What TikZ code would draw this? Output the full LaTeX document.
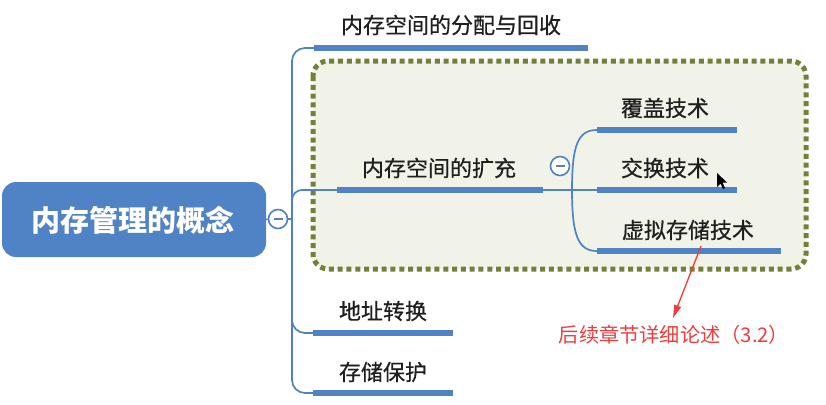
\documentclass[tikz,border=0pt]{standalone}
\usepackage{fontspec}
\setmainfont{Noto Sans CJK SC}
\newfontfamily\cjk{Noto Sans CJK SC}
\newfontfamily\cjkmed{Noto Sans CJK SC}[FakeBold=0.6]
\usetikzlibrary{arrows.meta}
\definecolor{mmblue}{HTML}{5082C6}
\definecolor{olivedot}{HTML}{72803A}
\definecolor{boxfill}{HTML}{F1F3E9}
\definecolor{notered}{HTML}{F03C3C}
\tikzset{
  rootbox/.style={draw=none, fill=mmblue, rounded corners=14pt, minimum width=264pt, minimum height=75pt, inner sep=0pt},
  barnode/.style={fill=mmblue, draw=none, minimum height=5.5pt, inner sep=0pt},
  txt/.style={font=\cjkmed\fontsize{22}{26}\selectfont, inner sep=0pt, text=black!88},
  conn/.style={draw=mmblue, line width=1.7pt},
  collapse/.style={circle, draw=mmblue, line width=1.6pt, fill=white, minimum size=19pt, inner sep=0pt},
  dotbox/.style={draw=olivedot, line width=5pt, dash pattern=on 5pt off 3.8pt, fill=boxfill, rounded corners=15pt},
}
\begin{document}
\begin{tikzpicture}[x=1pt,y=-1pt]
\useasboundingbox (0,0) rectangle (826,404);
% highlight box
\draw[dotbox] (313,61) rectangle (806,269);
% root
\node[rootbox] (root) at (134,219.5) {};
\node[font=\cjk\bfseries\fontsize{29}{33}\selectfont, text=white, inner sep=0pt] (roottxt) at (133,220) {内存管理的概念};
% collapse buttons
\node[collapse] (c1) at (278,219) {};
\draw[mmblue!70!gray, line width=2.2pt] ([xshift=-4.5pt]c1.center) -- ([xshift=4.5pt]c1.center);
\node[collapse] (c2) at (560,166) {};
\draw[mmblue!70!gray, line width=2.2pt] ([xshift=-4.5pt]c2.center) -- ([xshift=4.5pt]c2.center);
\coordinate (junc) at (292,219);
% bars
\node[barnode, minimum width=274pt] (b1) at (451,48) {};
\node[barnode, minimum width=206pt] (b2) at (440,190) {};
\node[barnode, minimum width=140pt] (b3) at (383,333) {};
\node[barnode, minimum width=140pt] (b4) at (383,393) {};
\node[barnode, minimum width=140pt] (s1) at (667,130) {};
\node[barnode, minimum width=140pt] (s2) at (667,190) {};
\node[barnode, minimum width=184pt] (s3) at (689,251) {};
% texts
\node[txt] (t1) at (451,25) {内存空间的分配与回收};
\node[txt] (t2) at (439,168) {内存空间的扩充};
\node[txt] (t3) at (383,311) {地址转换};
\node[txt] (t4) at (383,372) {存储保护};
\node[txt] (u1) at (665,108) {覆盖技术};
\node[txt] (u2) at (665,168) {交换技术};
\node[txt] (u3) at (688,230) {虚拟存储技术};
% connectors
\draw[conn] (root.east) -- (c1.west);
\draw[conn] (c1.east) -- (junc);
\draw[conn, rounded corners=13pt] (junc) |- (b1.west);
\draw[conn, rounded corners=10pt] (junc) |- (b2.west);
\draw[conn, rounded corners=13pt] (junc) |- (b3.west);
\draw[conn, rounded corners=13pt] (junc) |- (b4.west);
\coordinate (fork) at (572,190);
\draw[conn] (b2.east) -- (s2.west);
\draw[conn] (fork) .. controls (572,145) and (578,130) .. (s1.west);
\draw[conn] (fork) .. controls (572,235) and (578,251) .. (s3.west);
% note
\node[font=\cjk\fontsize{20.2}{24}\selectfont, text=notered, inner sep=0pt] (note) at (674,335) {后续章节详细论述（3.2）};
\coordinate (arrstart) at (701,246);
\draw[notered, line width=1.3pt, -{Triangle[length=13pt,width=7pt]}] (arrstart) -- (673,318);
% mouse cursor
\fill[black] (717,173) -- (717,187) -- (720.5,183.5) -- (723,189) -- (725,188) -- (722.5,182.5) -- (727,182.5) -- cycle;
\end{tikzpicture}
\end{document}
